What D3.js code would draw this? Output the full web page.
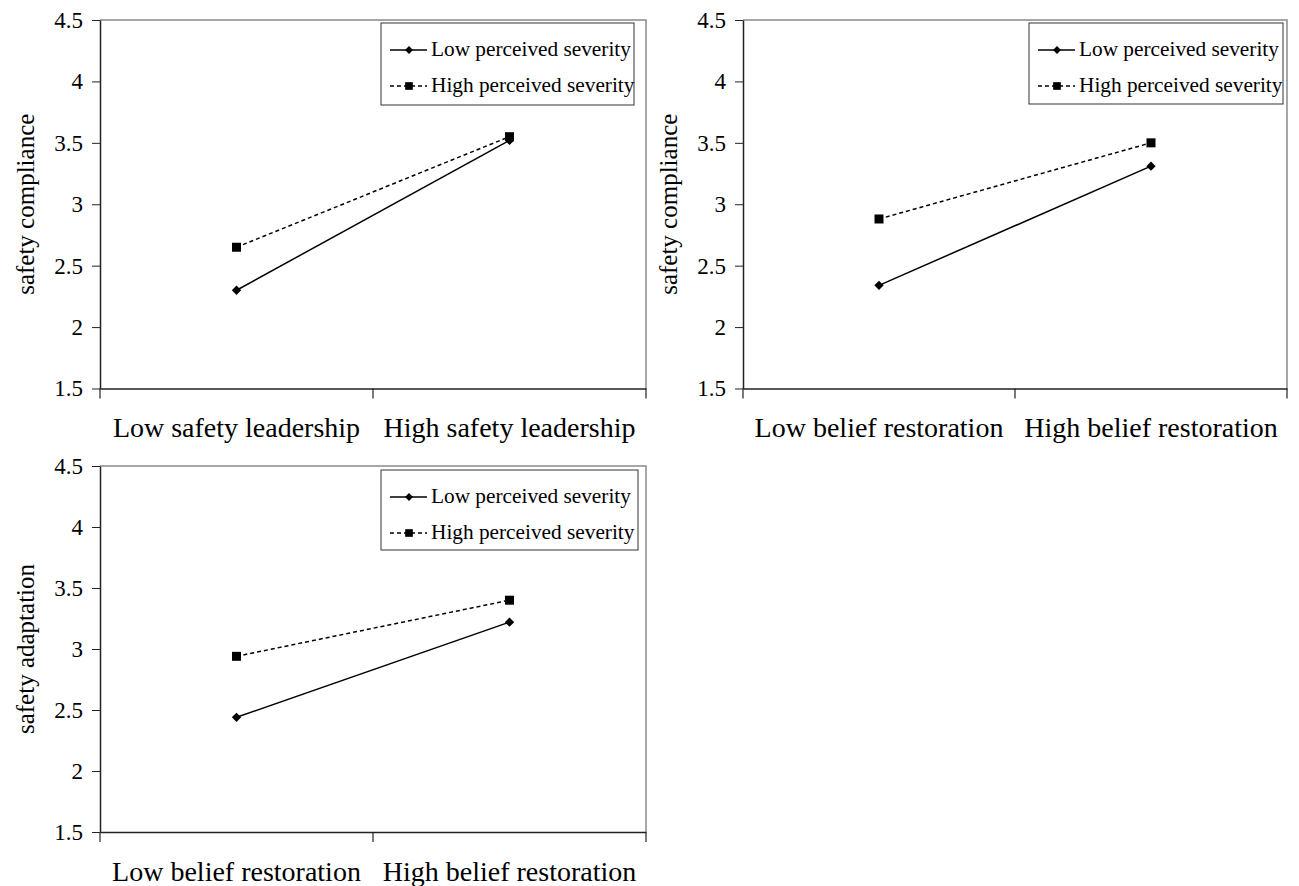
<!DOCTYPE html>
<html>
<head>
<meta charset="utf-8">
<script src="https://cdn.jsdelivr.net/npm/d3@7"></script>
<style>
  body { margin: 0; background: #fff; }
  svg text { font-family: "Liberation Serif", "Times New Roman", serif; fill: #000; }
</style>
</head>
<body>
<svg id="chart"></svg>
<script>
// data
const seriesNames = ["Low perceived severity", "High perceived severity"];
const yTicks = [1.5, 2, 2.5, 3, 3.5, 4, 4.5];

const catsLeader = ["Low safety leadership", "High safety leadership"];
const catsBelief = ["Low belief restoration", "High belief restoration"];

const p1Low = [2.30, 3.52];
const p1High = [2.65, 3.55];
const p2Low = [2.34, 3.31];
const p2High = [2.88, 3.50];
const p3Low = [2.44, 3.22];
const p3High = [2.94, 3.40];

let width = 1299, height = 886;
let svg = d3.select("#chart").attr("width", width).attr("height", height);

const panels = [
  { x: 100, y: 20, w: 546, h: 368.5, title: "safety compliance", cats: catsLeader, low: p1Low, high: p1High, lx: 281, ly: 3, lw: 253, lh: 82 },
  { x: 743, y: 20, w: 544, h: 368.5, title: "safety compliance", cats: catsBelief, low: p2Low, high: p2High, lx: 286, ly: 3, lw: 254, lh: 81 },
  { x: 100, y: 466, w: 546, h: 366, title: "safety adaptation", cats: catsBelief, low: p3Low, high: p3High, lx: 281, ly: 4, lw: 257, lh: 80 }
];

function drawPanel(p) {
  let g = svg.append("g").attr("transform", `translate(${p.x},${p.y})`);

  let scaleX = d3.scaleBand().domain(p.cats).range([0, p.w]);
  let scaleY = d3.scaleLinear().domain([1.5, 4.5]).range([p.h, 0]);

  // gray frame top & right
  g.append("path")
    .attr("d", `M0,0H${p.w}V${p.h}`)
    .attr("fill", "none").attr("stroke", "#8a8a8a").attr("stroke-width", 1.5);

  let axisY = d3.axisLeft(scaleY).tickValues(yTicks).tickFormat(d3.format("")).tickSize(8).tickSizeOuter(0).tickPadding(9);
  let gy = g.append("g").call(axisY);
  gy.select(".domain").attr("stroke", "#222").attr("stroke-width", 1.5);
  gy.selectAll(".tick line").attr("stroke", "#222");
  gy.selectAll("text").attr("font-size", 23).attr("font-family", "Liberation Serif").attr("fill", "#000");

  let axisX = d3.axisBottom(scaleX).tickSize(0).tickSizeOuter(0).tickPadding(29);
  let gx = g.append("g").attr("transform", `translate(0,${p.h})`).call(axisX);
  gx.select(".domain").attr("stroke", "#222").attr("stroke-width", 1.5);
  gx.selectAll("text").attr("font-size", 28).attr("font-family", "Liberation Serif").attr("fill", "#000");
  // tick marks at band edges
  let edges = [0].concat(p.cats.map(c => scaleX(c) + scaleX.bandwidth()));
  gx.selectAll(".edge").data(edges).enter().append("line")
    .attr("x1", d => d).attr("x2", d => d).attr("y1", 0).attr("y2", 10)
    .attr("stroke", "#222").attr("stroke-width", 1.2);

  g.append("text")
    .attr("transform", `translate(-75,${p.h / 2}) rotate(-90)`)
    .attr("text-anchor", "middle").attr("dy", "0.35em")
    .attr("font-size", 25).text(p.title);

  let cx = c => scaleX(c) + scaleX.bandwidth() / 2;
  let line = d3.line().x(d => cx(d.c)).y(d => scaleY(d.v));

  let lowPts = p.cats.map((c, i) => ({ c: c, v: p.low[i] }));
  let highPts = p.cats.map((c, i) => ({ c: c, v: p.high[i] }));

  g.append("path").datum(highPts).attr("d", line)
    .attr("fill", "none").attr("stroke", "#000").attr("stroke-width", 1.5).attr("stroke-dasharray", "4,3");
  g.append("path").datum(lowPts).attr("d", line)
    .attr("fill", "none").attr("stroke", "#000").attr("stroke-width", 1.5);

  let diamond = d3.symbol().type(d3.symbolDiamond2).size(56);
  let square = d3.symbol().type(d3.symbolSquare).size(81);

  g.selectAll(".sq").data(highPts).enter().append("path")
    .attr("d", square).attr("transform", d => `translate(${cx(d.c)},${scaleY(d.v)})`).attr("fill", "#000");
  g.selectAll(".dm").data(lowPts).enter().append("path")
    .attr("d", diamond).attr("transform", d => `translate(${cx(d.c)},${scaleY(d.v)})`).attr("fill", "#000");

  // legend
  let lg = g.append("g").attr("transform", `translate(${p.lx},${p.ly})`);
  lg.append("rect").attr("width", p.lw).attr("height", p.lh)
    .attr("fill", "#fff").attr("stroke", "#333").attr("stroke-width", 1);
  seriesNames.forEach((name, i) => {
    let yy = 27 + i * 36;
    lg.append("line").attr("x1", 9).attr("x2", 46).attr("y1", yy).attr("y2", yy)
      .attr("stroke", "#000").attr("stroke-width", 1.5)
      .attr("stroke-dasharray", i ? "4,3" : null);
    lg.append("path").attr("d", i ? square : diamond)
      .attr("transform", `translate(28,${yy}) scale(0.85)`).attr("fill", "#000");
    lg.append("text").attr("x", 50).attr("y", yy + 6).attr("font-size", 21.3).text(name);
  });
}

panels.forEach(drawPanel);
</script>
</body>
</html>
